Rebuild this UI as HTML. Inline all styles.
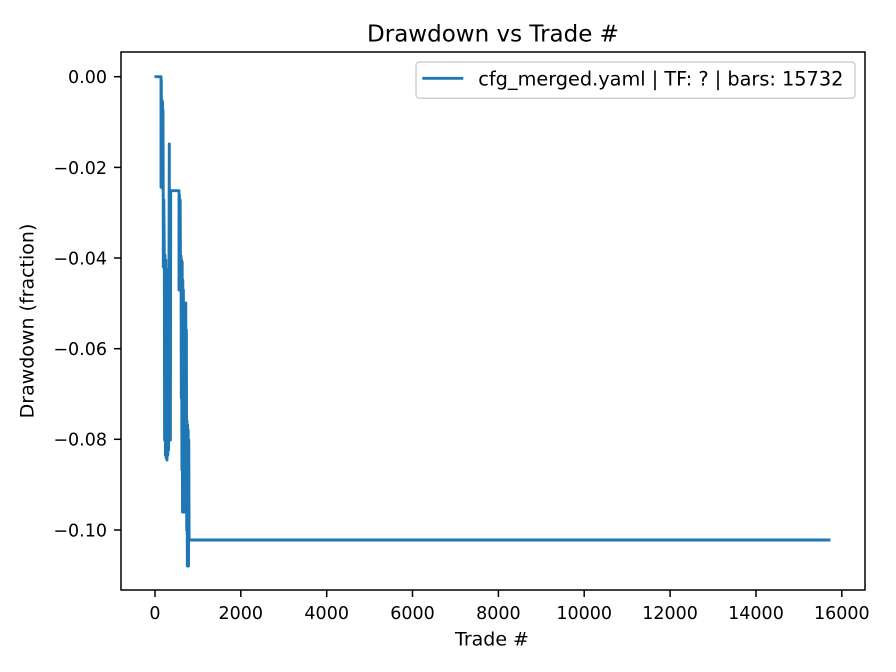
<!DOCTYPE html>
<html>
<head>
<meta charset="utf-8">
<style>
html,body{margin:0;padding:0;background:#fff;}
svg{display:block;}
text{font-family:"DejaVu Sans","Liberation Sans",sans-serif;fill:#000;}
</style>
</head>
<body>
<svg width="896" height="672" viewBox="0 0 896 672" xmlns="http://www.w3.org/2000/svg">
<rect x="0" y="0" width="896" height="672" fill="#fff"/>

<!-- data line -->
<path fill="none" stroke="#1f77b4" stroke-width="2.9" stroke-linejoin="round" stroke-linecap="butt"
d="M154.5,76.7 L161,76.7
L161,187 L161.3,80 L161.6,186 L161.9,100 L162.2,188 L162.5,102 L162.8,187 L163,110 L163.2,186
L163.3,267 L163.8,200 L164.3,250 L164.6,440 L165,255 L165.4,455 L165.8,260 L166.2,458 L166.6,300 L167,460 L167.4,270 L167.8,455 L168.2,280 L168.6,450 L169,250 L169.3,144 L169.6,400 L170,190.7 L170.4,440 L170.7,190.7 L179,190.7
L179,290 L179.4,195 L179.8,290 L180.2,200 L180.6,290 L181,256 L181.3,398 L181.6,260 L181.9,470 L182.2,262 L182.5,512 L182.8,280 L183.1,505 L183.4,290 L183.7,512 L184,303 L184.3,500 L184.6,305 L184.9,512 L185.2,310 L185.5,505 L185.8,303 L186.1,512 L186.4,330 L186.7,530 L187,421 L187.3,566 L187.6,425 L187.9,560 L188.2,430 L188.5,566 L188.8,440 L189.1,540 L830.5,540"/>

<!-- axes frame -->
<rect x="121" y="52" width="744" height="538" fill="none" stroke="#000" stroke-width="1.5"/>

<!-- y ticks -->
<g stroke="#000" stroke-width="1.5">
<line x1="114" y1="76.7" x2="121" y2="76.7"/>
<line x1="114" y1="167.4" x2="121" y2="167.4"/>
<line x1="114" y1="258" x2="121" y2="258"/>
<line x1="114" y1="348.7" x2="121" y2="348.7"/>
<line x1="114" y1="439.3" x2="121" y2="439.3"/>
<line x1="114" y1="530" x2="121" y2="530"/>
</g>
<g font-size="17.5" text-anchor="end">
<text x="107" y="83.1">0.00</text>
<text x="107" y="173.8">−0.02</text>
<text x="107" y="264.4">−0.04</text>
<text x="107" y="355.1">−0.06</text>
<text x="107" y="445.7">−0.08</text>
<text x="107" y="536.4">−0.10</text>
</g>

<!-- x ticks -->
<g stroke="#000" stroke-width="1.5">
<line x1="155" y1="590" x2="155" y2="597"/>
<line x1="240.8" y1="590" x2="240.8" y2="597"/>
<line x1="326.7" y1="590" x2="326.7" y2="597"/>
<line x1="412.5" y1="590" x2="412.5" y2="597"/>
<line x1="498.4" y1="590" x2="498.4" y2="597"/>
<line x1="584.2" y1="590" x2="584.2" y2="597"/>
<line x1="670.1" y1="590" x2="670.1" y2="597"/>
<line x1="756" y1="590" x2="756" y2="597"/>
<line x1="841.8" y1="590" x2="841.8" y2="597"/>
</g>
<g font-size="17.5" text-anchor="middle">
<text x="155" y="619">0</text>
<text x="240.8" y="619">2000</text>
<text x="326.7" y="619">4000</text>
<text x="412.5" y="619">6000</text>
<text x="498.4" y="619">8000</text>
<text x="584.2" y="619">10000</text>
<text x="670.1" y="619">12000</text>
<text x="756" y="619">14000</text>
<text x="841.8" y="619">16000</text>
</g>

<!-- axis labels -->
<text x="492" y="645.5" font-size="19" text-anchor="middle">Trade #</text>
<text transform="translate(33.5,321) rotate(-90)" font-size="19" text-anchor="middle">Drawdown (fraction)</text>

<!-- title -->
<text x="493" y="41.7" font-size="23" text-anchor="middle">Drawdown vs Trade #</text>

<!-- legend -->
<rect x="416" y="62" width="439" height="36.3" rx="3.5" ry="3.5" fill="#fff" fill-opacity="0.8" stroke="#d0d0d0" stroke-width="1.5"/>
<line x1="422.3" y1="78.3" x2="463.3" y2="78.3" stroke="#1f77b4" stroke-width="2.9"/>
<text x="478.3" y="85.3" font-size="19.3">cfg_merged.yaml | TF: ? | bars: 15732</text>
</svg>
</body>
</html>
